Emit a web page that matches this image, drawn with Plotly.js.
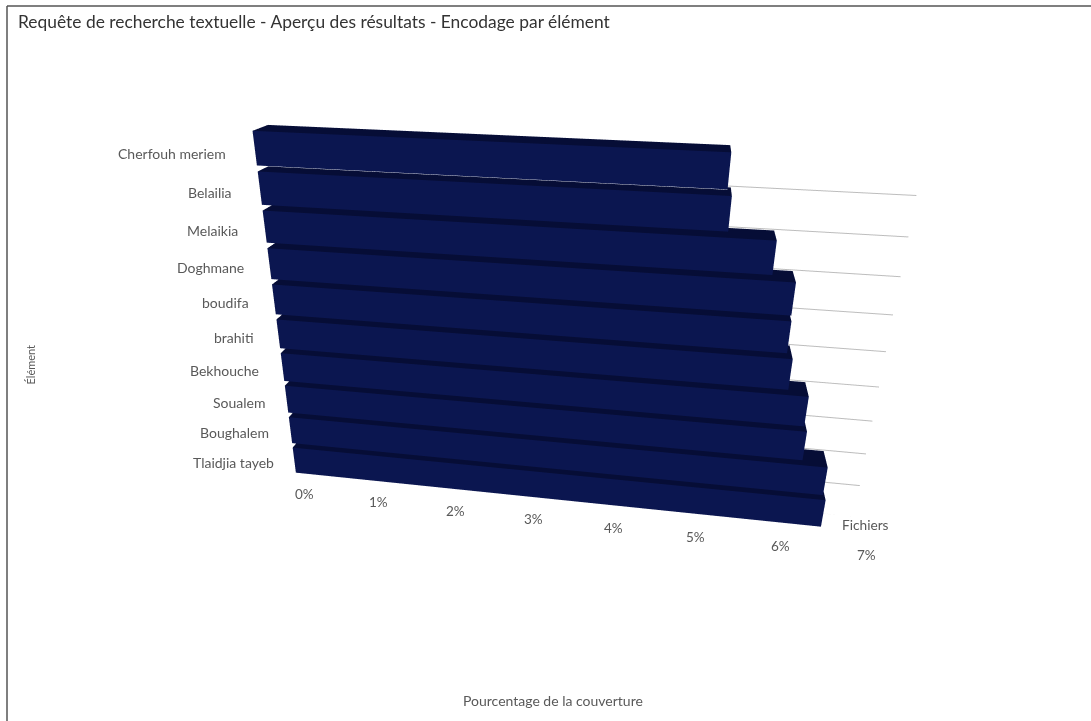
<!DOCTYPE html>
<html><head><meta charset="utf-8">
<script src="https://cdn.plot.ly/plotly-3.0.1.min.js"></script>
<style>html,body{margin:0;padding:0;background:#fff}#c{width:1091px;height:721px}</style>
</head><body><div id="c"></div>
<script>
const categories=["Cherfouh meriem","Belailia","Melaikia","Doghmane","boudifa","brahiti","Bekhouche","Soualem","Boughalem","Tlaidjia tayeb"];
const coverage=[5.08,5.13,5.63,5.88,5.89,5.96,6.19,6.23,6.52,6.56];
const xTicks=[0,1,2,3,4,5,6,7];
const xTickLabels=["0%","1%","2%","3%","4%","5%","6%","7%"];
const titleText="Requête de recherche textuelle - Aperçu des résultats - Encodage par élément";
const xTitle="Pourcentage de la couverture";
const yTitle="Élément";
const zTitle="Fichiers";
const faceColor="#0b1650", topColor="#060d36", endColor="#0d1a5a", gridColor="#bdbdbd", textColor="#595959";
const barLow=0.38, barHigh=0.47, barDepth=0.95;
const n=categories.length;
const data=[];
categories.forEach((c,i)=>{
  const yc=n-1-i, v=coverage[i], y0=yc-barLow, y1=yc+barHigh, z0=0, z1=barDepth;
  data.push({type:'mesh3d',
    x:[0,v,v,0,0,v,v,0],y:[y0,y0,y1,y1,y0,y0,y1,y1],z:[z0,z0,z0,z0,z1,z1,z1,z1],
    i:[4,4,3,3,1,1,0,0,0,0,0,0],j:[5,6,2,6,2,6,1,5,3,7,1,2],k:[6,7,6,7,6,5,5,4,7,4,2,3],
    facecolor:[faceColor,faceColor,topColor,topColor,endColor,endColor,topColor,topColor,topColor,topColor,faceColor,faceColor],
    flatshading:true,lighting:{ambient:1,diffuse:0,specular:0,roughness:1,fresnel:0},showscale:false,hoverinfo:'skip'});
  data.push({type:'scatter3d',mode:'lines',x:[0,7],y:[yc-0.5,yc-0.5],z:[0,0],line:{color:gridColor,width:2},hoverinfo:'skip',showlegend:false});
  data.push({type:'scatter3d',mode:'lines',x:[-0.18,0],y:[yc-0.5,yc-0.5],z:[0,0],line:{color:gridColor,width:2},hoverinfo:'skip',showlegend:false});
  if(i===0) data.push({type:'scatter3d',mode:'lines',x:[0,v],y:[y0,y0],z:[z1,z1],line:{color:'#ffffff',width:1.5},hoverinfo:'skip',showlegend:false});
});
const hidden={visible:false,showgrid:false,zeroline:false,showticklabels:false,showspikes:false};
const sceneAnn=[];
categories.forEach((c,i)=>sceneAnn.push({x:0,y:n-1-i,z:0,text:c,showarrow:false,xanchor:'right',xshift:-42+i*1.33,yshift:-10-i*0.67,font:{family:'Lato',size:14,color:textColor}}));
xTicks.forEach((t,i)=>sceneAnn.push({x:t,y:-0.5,z:0,text:xTickLabels[i],showarrow:false,yshift:-33-t*0.85,xshift:-4+t*2.4,font:{family:'Lato',size:13.5,color:textColor}}));
const layout={width:1091,height:721,margin:{l:0,r:0,t:0,b:0},paper_bgcolor:'#fff',showlegend:false,
  scene:{domain:{x:[0,1],y:[0,1]},bgcolor:'#fff',
    xaxis:Object.assign({range:[0,7]},hidden),
    yaxis:Object.assign({range:[-0.5,9.5]},hidden),
    zaxis:Object.assign({range:[0,1]},hidden),
    aspectmode:'manual',aspectratio:{x:1.96,y:1.23,z:0.11},
    camera:{projection:{type:'perspective'},eye:{x:0.318,y:1.102,z:2.55},up:{x:-0.013,y:1,z:0},center:{x:-0.082,y:-0.098,z:0}},
    annotations:sceneAnn},
  annotations:[
    {xref:'paper',yref:'paper',x:16/1091,y:1-22/721,text:titleText,showarrow:false,xanchor:'left',yanchor:'middle',font:{family:'Lato',size:17.4,color:'#333'}},
    {xref:'paper',yref:'paper',x:553/1091,y:1-711/721,text:xTitle,showarrow:false,font:{family:'Lato',size:14,color:textColor}},
    {xref:'paper',yref:'paper',x:21/1091,y:1-365/721,text:yTitle,showarrow:false,textangle:-90,font:{family:'Lato',size:11,color:textColor}},
    {xref:'paper',yref:'paper',x:891/1091,y:1-535/721,text:zTitle,showarrow:false,font:{family:'Lato',size:13.7,color:textColor}}
  ],
  shapes:[
    {type:'line',xref:'paper',yref:'paper',x0:7/1091,x1:7/1091,y0:0,y1:1-6/721,line:{color:'#555',width:1.5}},
    {type:'line',xref:'paper',yref:'paper',x0:7/1091,x1:1,y0:1-6/721,y1:1-6/721,line:{color:'#555',width:1.5}}
  ]};
Plotly.newPlot('c',data,layout,{displayModeBar:false});
</script></body></html>
